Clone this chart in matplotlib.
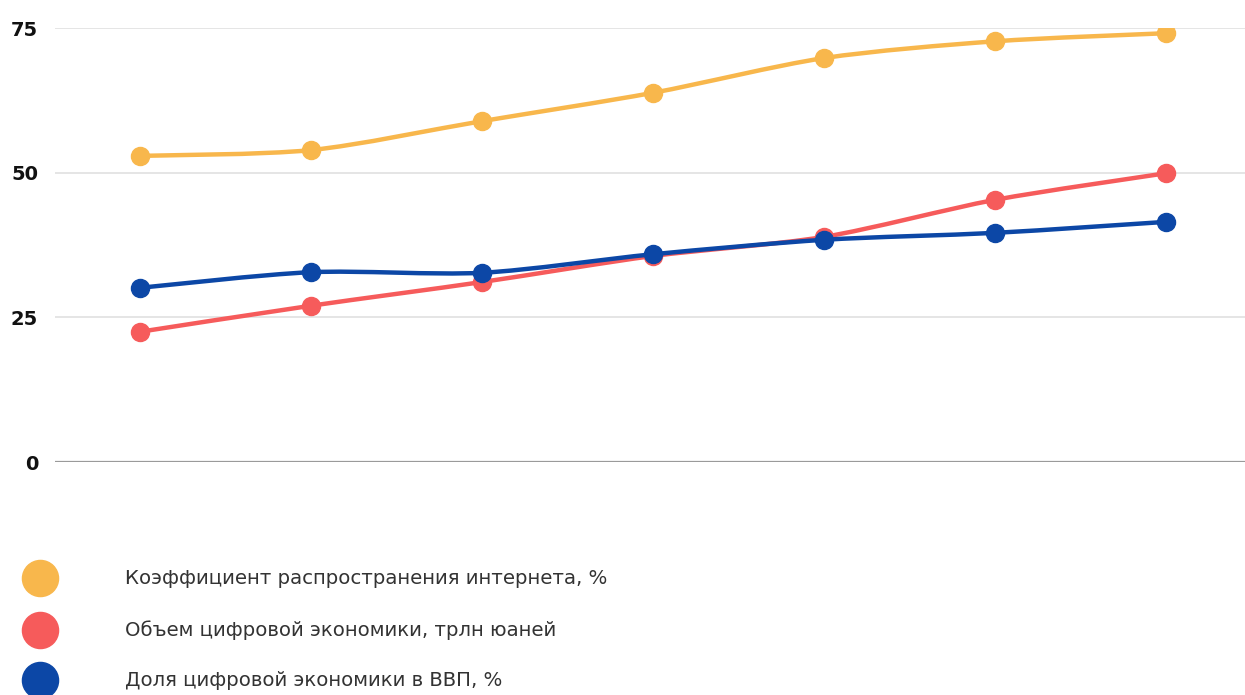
import matplotlib
matplotlib.use("Agg")
import matplotlib.pyplot as plt
from matplotlib.path import Path
from matplotlib.patches import PathPatch
from matplotlib.lines import Line2D

# Data
periods = [0, 1, 2, 3, 4, 5, 6]
internet_rate = [52.9, 53.9, 58.9, 63.8, 69.8, 72.7, 74.1]
digital_volume = [22.5, 27.0, 31.1, 35.6, 38.9, 45.3, 49.9]
digital_share = [30.1, 32.8, 32.7, 35.9, 38.4, 39.6, 41.5]
y_ticks = [0, 25, 50, 75]
labels = ["Коэффициент распространения интернета, %",
          "Объем цифровой экономики, трлн юаней",
          "Доля цифровой экономики в ВВП, %"]
colors = ["#F8B74C", "#F65B5B", "#0C47A6"]

fig = plt.figure(figsize=(12.45, 6.95), dpi=100)
ax = fig.add_axes([0.044, 1 - 462 / 695, 0.956, (462 - 28) / 695])
ax.set_xlim(-0.497, 6.462)
ax.set_ylim(0, 75)


def smooth_path(xs, ys, t=0.14):
    verts = [(xs[0], ys[0])]
    codes = [Path.MOVETO]
    n = len(xs)
    for i in range(n - 1):
        x0, y0 = (xs[i - 1], ys[i - 1]) if i > 0 else (xs[i], ys[i])
        x1, y1 = xs[i], ys[i]
        x2, y2 = xs[i + 1], ys[i + 1]
        x3, y3 = (xs[i + 2], ys[i + 2]) if i + 2 < n else (x2, y2)
        c1 = (x1 + (x2 - x0) * t, y1 + (y2 - y0) * t)
        c2 = (x2 - (x3 - x1) * t, y2 - (y3 - y1) * t)
        verts += [c1, c2, (x2, y2)]
        codes += [Path.CURVE4] * 3
    return Path(verts, codes)


for ys, c, z in [(internet_rate, colors[0], 3), (digital_volume, colors[1], 4), (digital_share, colors[2], 5)]:
    ax.add_patch(PathPatch(smooth_path(periods, ys), fill=False, edgecolor=c, lw=3.2,
                           capstyle="round", joinstyle="round", zorder=z))
    ax.plot(periods, ys, "o", ls="none", color=c, ms=13, zorder=z + 0.5)

for v in y_ticks:
    ax.axhline(v, color="#9a9a9a" if v == 0 else "#e3e3e3", lw=1.6 if v == 0 else 1.3, zorder=1)

ax.set_yticks(y_ticks)
ax.set_yticklabels([str(v) for v in y_ticks], fontsize=14, fontweight="bold",
                   family="DejaVu Sans", color="#111111")
ax.tick_params(axis="y", length=0, pad=12)
ax.set_xticks([])
for s in ax.spines.values():
    s.set_visible(False)

# Legend
leg_y = [578, 630, 680]
for yy, c, lab in zip(leg_y, colors, labels):
    fig.add_artist(Line2D([40 / 1245], [1 - yy / 695], marker="o", ms=26, color=c,
                          ls="none", transform=fig.transFigure))
    fig.text(125 / 1245, 1 - yy / 695, lab, fontsize=14.2, family="DejaVu Sans",
             color="#333333", va="center", ha="left")

fig.savefig("out.png", dpi=100)
